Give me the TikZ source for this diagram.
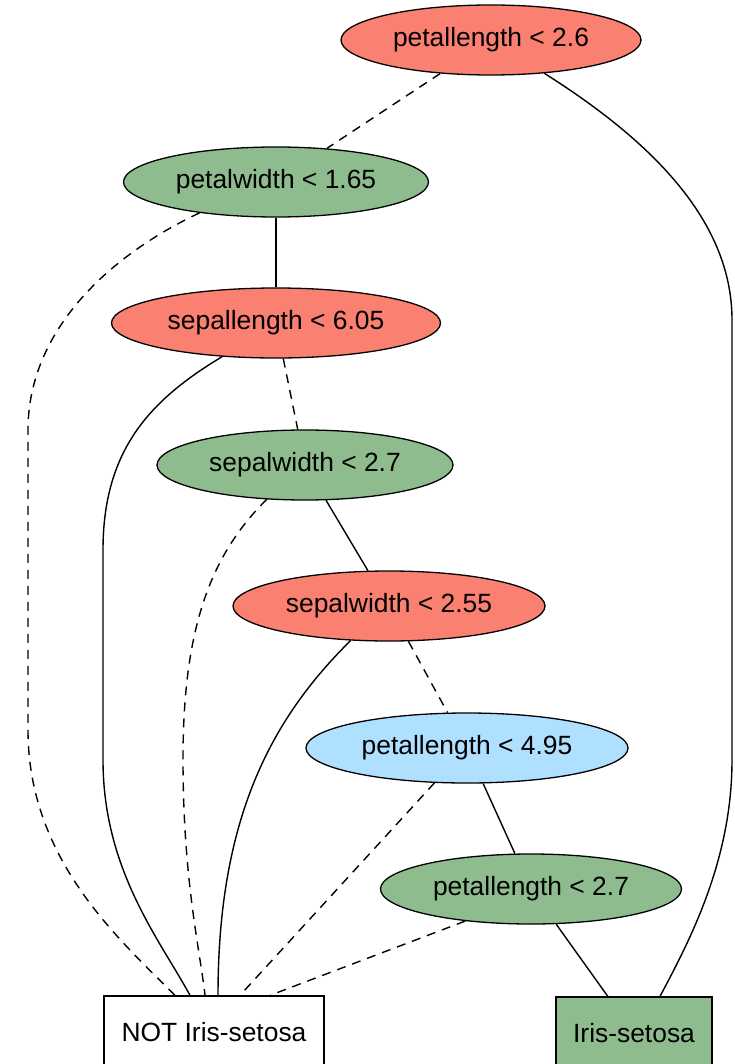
\documentclass[tikz,border=0pt]{standalone}
\usepackage{fontspec}
\setmainfont{Liberation Sans}
\usetikzlibrary{shapes.geometric,calc}
\definecolor{salmonfill}{HTML}{FA8072}
\definecolor{seagreenfill}{HTML}{8FBC8F}
\definecolor{skyfill}{HTML}{B0E0FF}
\tikzset{
  test/.style={ellipse, draw=black, line width=1.3pt, inner sep=0pt,
    minimum height=70, font=\fontsize{26.4}{30}\selectfont},
  leaf/.style={rectangle, draw=black, line width=1.3pt, inner sep=0pt,
    minimum height=72, font=\fontsize{26.4}{30}\selectfont},
  yes/.style={line width=1.4pt},
  no/.style={line width=1.4pt, dash pattern=on 9pt off 7pt},
}
\begin{document}
\begin{tikzpicture}[x=1pt,y=-1pt]
\useasboundingbox (0,0) rectangle (734,1064);

% decision nodes
\node[test, fill=salmonfill,   minimum width=300] (n1) at (491,40)  {petallength < 2.6};
\node[test, fill=seagreenfill, minimum width=305] (n2) at (276,182) {petalwidth < 1.65};
\node[test, fill=salmonfill,   minimum width=329] (n3) at (276,323) {sepallength < 6.05};
\node[test, fill=seagreenfill, minimum width=296] (n4) at (305,465) {sepalwidth < 2.7};
\node[test, fill=salmonfill,   minimum width=312] (n5) at (389,606) {sepalwidth < 2.55};
\node[test, fill=skyfill,      minimum width=322] (n6) at (467,748) {petallength < 4.95};
\node[test, fill=seagreenfill, minimum width=301] (n7) at (531,889) {petallength < 2.7};

% leaves
\node[leaf, fill=white,        minimum width=220] (n8) at (214,1032) {NOT Iris-setosa};
\node[leaf, fill=seagreenfill, minimum width=156] (n9) at (634,1033) {Iris-setosa};

% branches
\draw[no]  (n1) -- (n2);
\draw[yes] (n1.-32) .. controls (650,140) and (732,220) .. (732,320)
           -- (732,760) .. controls (732,860) and (690,940) .. ($(n9.north)+(26,0)$);
\draw[yes] (n2) -- (n3);
\draw[no]  (n2.202) .. controls (110,255) and (28,330) .. (28,430)
           -- (28,730) .. controls (28,860) and (120,940) .. ($(n8.north)+(-39,0)$);
\draw[no]  (n3) -- (n4);
\draw[yes] (n3.212) .. controls (150,400) and (103,450) .. (103,550)
           -- (103,760) .. controls (103,870) and (160,940) .. ($(n8.north)+(-24,0)$);
\draw[yes] (n4) -- (n5);
\draw[no]  (n4.222) .. controls (205,560) and (183,640) .. (183,760)
           .. controls (183,880) and (200,950) .. ($(n8.north)+(-9,0)$);
\draw[no]  (n5) -- (n6);
\draw[yes] (n5.222) .. controls (270,720) and (218,820) .. ($(n8.north)+(4,0)$);
\draw[yes] (n6) -- (n7);
\draw[no]  (n6.227) -- ($(n8.north)+(26,0)$);
\draw[no]  (n7.206) -- ($(n8.north)+(56,0)$);
\draw[yes] (n7) -- (n9);
\end{tikzpicture}
\end{document}
